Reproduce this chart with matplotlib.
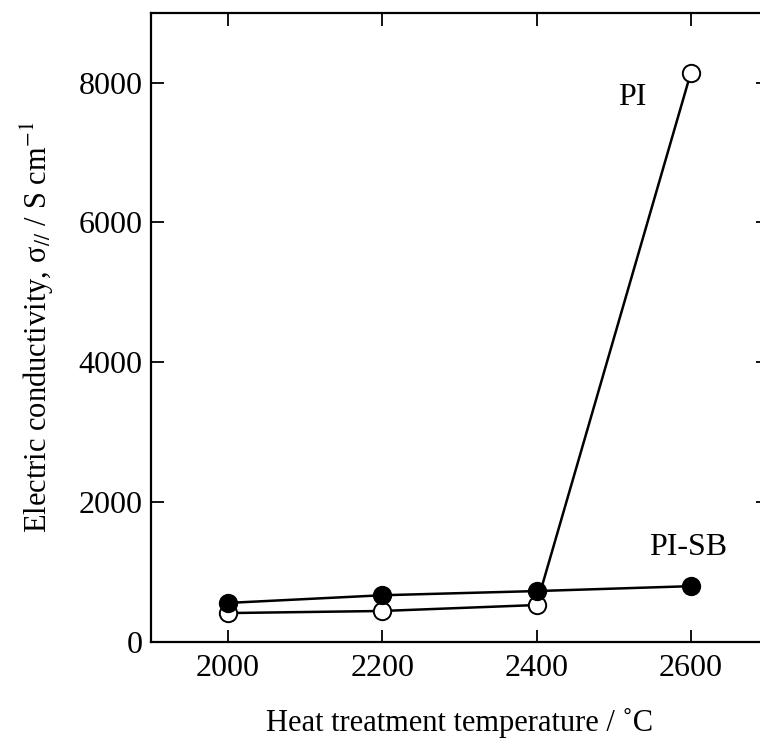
import matplotlib
matplotlib.use("Agg")
import matplotlib.pyplot as plt

# heat treatment temperature (deg C)
temps = [2000, 2200, 2400, 2600]
# electric conductivity, S/cm
pi_vals = [410, 440, 525, 8140]
pisb_vals = [555, 665, 725, 795]

xticks = [2000, 2200, 2400, 2600]
yticks = [0, 2000, 4000, 6000, 8000]

plt.rcParams['font.family'] = ['Liberation Serif', 'DejaVu Serif']
plt.rcParams['mathtext.fontset'] = 'stix'

fig = plt.figure(figsize=(7.6, 7.4), dpi=100)
ax = fig.add_axes([0.1983, 0.1328, 1.0105 - 0.1983, 0.9828 - 0.1328])

ax.plot(temps, pi_vals, color='black', lw=1.8, marker='o', ms=12.5,
        mfc='white', mec='black', mew=1.4, zorder=3)
ax.plot(temps, pisb_vals, color='black', lw=1.8, marker='o', ms=12.5,
        mfc='black', mec='black', mew=1.4, zorder=4)

ax.text(2524, 7780, 'PI', fontsize=23, ha='center', va='center')
ax.text(2597, 1350, 'PI-SB', fontsize=23, ha='center', va='center')

ax.set_xlim(1900, 2700)
ax.set_ylim(0, 9000)
ax.set_xticks(xticks)
ax.set_yticks(yticks)
ax.tick_params(direction='in', length=9, width=1.3, labelsize=23,
               top=True, right=True)
ax.tick_params(axis='x', pad=9)
ax.tick_params(axis='y', pad=6)
for s in ax.spines.values():
    s.set_linewidth(1.6)

ax.set_xlabel('Heat treatment temperature / ˚C', fontsize=22, labelpad=18)
ax.set_ylabel('Electric conductivity, σ$_{//}$ / S cm$^{\\mathrm{-1}}$',
              fontsize=22, labelpad=16)

fig.savefig('out.png', dpi=100)
